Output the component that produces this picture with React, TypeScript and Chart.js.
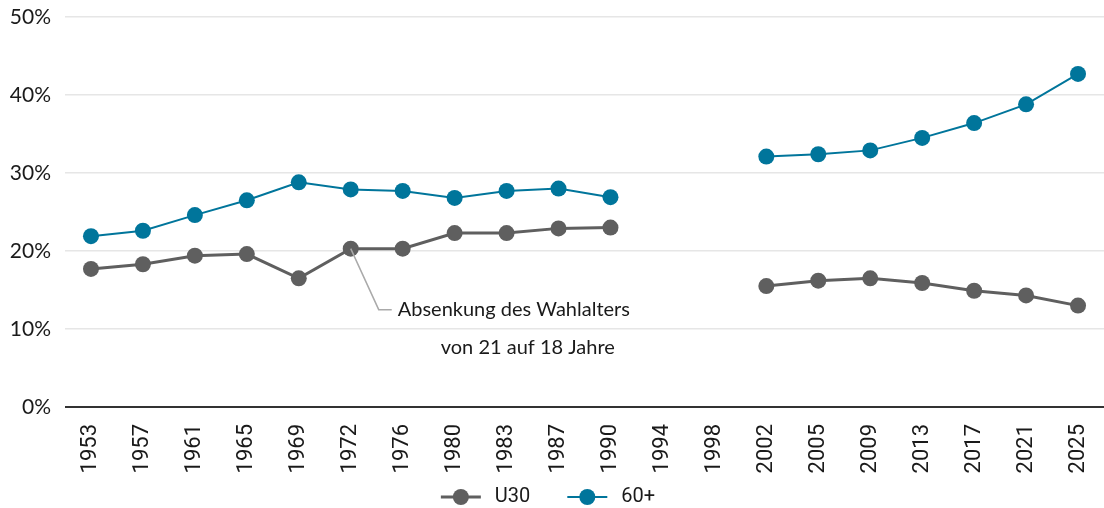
import React, { useEffect, useRef } from "react";
import { Chart, registerables } from "chart.js";

Chart.register(...registerables);

const years = ["1953","1957","1961","1965","1969","1972","1976","1980","1983","1987","1990","1994","1998","2002","2005","2009","2013","2017","2021","2025"];
const u30 = [17.7,18.3,19.4,19.6,16.5,20.3,20.3,22.3,22.3,22.9,23.0,null,null,15.5,16.2,16.5,15.9,14.9,14.3,13.0];
const plus60 = [21.9,22.6,24.6,26.5,28.8,27.9,27.7,26.8,27.7,28.0,26.9,null,null,32.1,32.4,32.9,34.5,36.4,38.8,42.7];
const seriesNames = ["U30", "60+"];
const annotationLines = ["Absenkung des Wahlalters", "von 21 auf 18 Jahre"];
const annotationIndex = 5;

const GRAY = "#5f5f5f";
const TEAL = "#00759b";

const annotationPlugin = {
  id: "wahlalterNote",
  afterDatasetsDraw(chart: any) {
    const meta = chart.getDatasetMeta(0);
    const pt = meta.data[annotationIndex];
    if (!pt) return;
    const ctx = chart.ctx;
    const x0 = pt.x, y0 = pt.y;
    ctx.save();
    ctx.strokeStyle = "#aaaaaa";
    ctx.lineWidth = 1.5;
    ctx.beginPath();
    ctx.moveTo(x0, y0);
    ctx.lineTo(x0 + 28, y0 + 61);
    ctx.lineTo(x0 + 41, y0 + 61);
    ctx.stroke();
    ctx.fillStyle = "#1a1a1a";
    ctx.font = "20px Lato";
    ctx.textBaseline = "middle";
    ctx.textAlign = "left";
    ctx.fillText(annotationLines[0], x0 + 47, y0 + 61);
    ctx.fillText(annotationLines[1], x0 + 90, y0 + 99);
    ctx.restore();
  },
};

const legendPlugin = {
  id: "lineDotLegend",
  afterDraw(chart: any) {
    const ctx = chart.ctx;
    const items = chart.data.datasets.map((d: any) => ({ label: d.label, color: d.borderColor, lw: d.borderWidth }));
    ctx.save();
    ctx.font = "20px Roboto";
    ctx.textBaseline = "middle";
    const symW = 40, gapText = 14, gapItem = 37;
    let total = 0;
    items.forEach((it: any, i: number) => {
      total += symW + gapText + ctx.measureText(it.label).width + (i < items.length - 1 ? gapItem : 0);
    });
    let x = (chart.width - total) / 2 - 4;
    const y = 497;
    items.forEach((it: any) => {
      ctx.strokeStyle = it.color;
      ctx.lineWidth = it.lw;
      ctx.beginPath();
      ctx.moveTo(x, y);
      ctx.lineTo(x + symW, y);
      ctx.stroke();
      ctx.fillStyle = it.color;
      ctx.beginPath();
      ctx.arc(x + symW / 2, y, 8, 0, Math.PI * 2);
      ctx.fill();
      x += symW + gapText;
      ctx.fillStyle = "#1a1a1a";
      ctx.textAlign = "left";
      ctx.fillText(it.label, x, y);
      x += ctx.measureText(it.label).width + gapItem;
    });
    ctx.restore();
  },
};

export default function App() {
  const ref = useRef<HTMLCanvasElement | null>(null);
  useEffect(() => {
    document.body.style.margin = "0";
    const canvas = ref.current;
    if (!canvas) return;
    const chart = new Chart(canvas, {
      type: "line",
      data: {
        labels: years,
        datasets: [
          {
            label: seriesNames[0],
            data: u30,
            borderColor: GRAY,
            backgroundColor: GRAY,
            borderWidth: 3,
            pointRadius: 8,
            pointHoverRadius: 8,
            pointBorderWidth: 0,
            pointBackgroundColor: GRAY,
            spanGaps: false,
            tension: 0,
          },
          {
            label: seriesNames[1],
            data: plus60,
            borderColor: TEAL,
            backgroundColor: TEAL,
            borderWidth: 2,
            pointRadius: 8,
            pointHoverRadius: 8,
            pointBorderWidth: 0,
            pointBackgroundColor: TEAL,
            spanGaps: false,
            tension: 0,
          },
        ],
      },
      options: {
        animation: false,
        responsive: false,
        devicePixelRatio: 1,
        layout: { autoPadding: false, padding: { top: 17, left: 1, right: 0, bottom: 0 } },
        plugins: {
          legend: { display: false },
          tooltip: { enabled: false },
        },
        scales: {
          x: {
            type: "category",
            offset: true,
            grid: { display: false, drawTicks: false },
            border: { display: false },
            ticks: {
              autoSkip: false,
              minRotation: 90,
              maxRotation: 90,
              padding: 17,
              color: "#1a1a1a",
              font: { family: "Roboto", size: 22 },
            },
            afterFit: (s: any) => { s.height = 101; s.paddingLeft = 0; s.paddingRight = 0; },
          },
          y: {
            min: 0,
            max: 50,
            border: { display: false },
            grid: {
              drawTicks: false,
              color: (c: any) => (c.tick && c.tick.value === 0 ? "#333333" : "#e6e6e6"),
              lineWidth: (c: any) => (c.tick && c.tick.value === 0 ? 2 : 1.5),
            },
            ticks: {
              stepSize: 10,
              padding: 14,
              color: "#1a1a1a",
              font: { family: "Lato", size: 21 },
              callback: (v: any) => v + "%",
            },
            afterFit: (s: any) => { s.width = 64; s.paddingTop = 0; s.paddingBottom = 0; },
          },
        },
      },
      plugins: [annotationPlugin, legendPlugin],
    });
    return () => chart.destroy();
  }, []);
  return (
    <div style={{ width: 1104, height: 508 }}>
      <canvas ref={ref} width={1104} height={508} style={{ display: "block" }} />
    </div>
  );
}
